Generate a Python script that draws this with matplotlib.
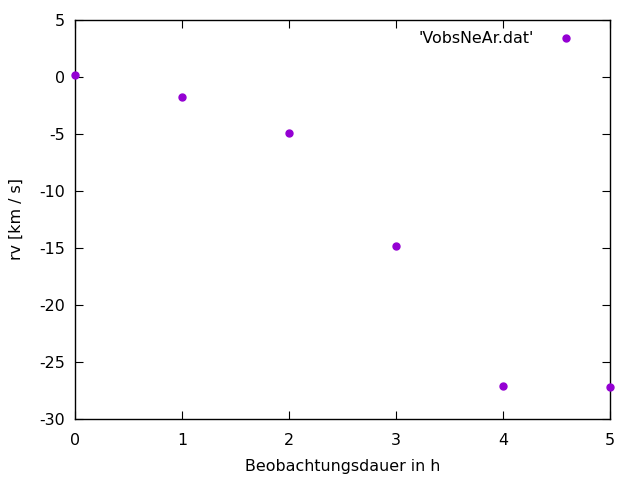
import matplotlib
matplotlib.use('Agg')
import matplotlib.pyplot as plt

plt.rcParams['axes.unicode_minus'] = False

hours = [0, 1, 2, 3, 4, 5]
rv = [0.2, -1.75, -4.9, -14.8, -27.1, -27.2]
series_label = "'VobsNeAr.dat'"

fig = plt.figure(figsize=(6.4, 4.8), dpi=100)
ax = fig.add_axes([75 / 640, 61 / 480, 535 / 640, 399 / 480])

ax.plot(hours, rv, 'o', color='#9400d3', markersize=5, label=series_label,
        clip_on=False, zorder=3)

ax.set_xlim(0, 5)
ax.set_ylim(-30, 5)
ax.set_xticks(hours)
ax.set_yticks(range(-30, 6, 5))
ax.tick_params(direction='in', top=True, right=True, labelsize=11.4, length=6)
ax.tick_params(axis='x', pad=10)
ax.tick_params(axis='y', pad=7)
for s in ax.spines.values():
    s.set_linewidth(1)

ax.set_xlabel('Beobachtungsdauer in h', fontsize=11.4, labelpad=8)
ax.set_ylabel('rv [km / s]', fontsize=11.4, labelpad=11)

leg = ax.legend(loc='upper right', bbox_to_anchor=(1 - 18 / 535, 1),
                frameon=False, fontsize=11.4, markerfirst=False,
                handletextpad=1.1, handlelength=1.9, borderaxespad=0.3)

fig.savefig('out.png', dpi=100)
